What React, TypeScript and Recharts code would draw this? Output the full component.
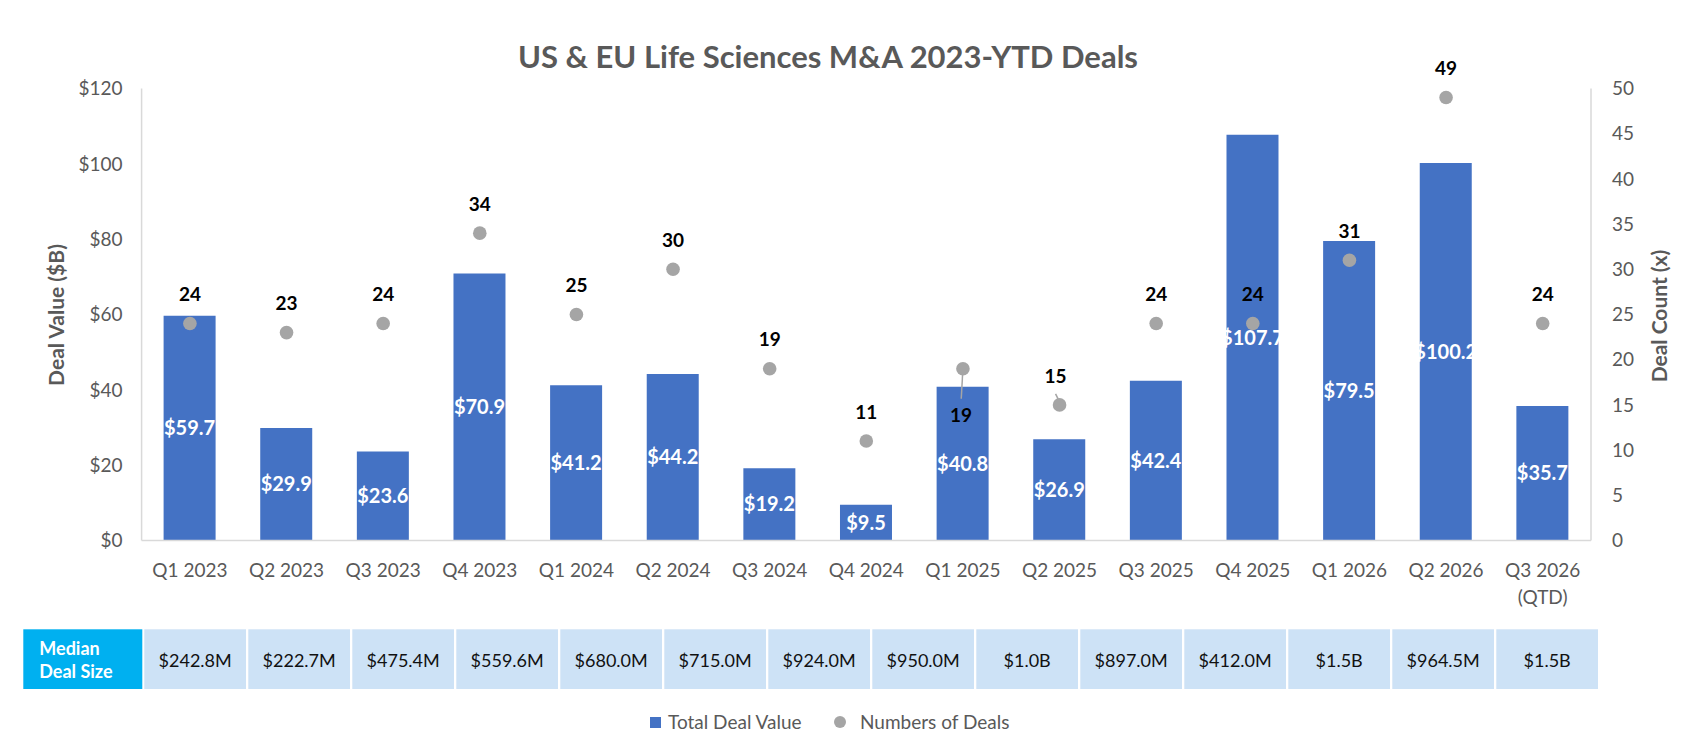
import React from 'react';
import { ComposedChart, Bar, Scatter, XAxis, YAxis, Legend, LabelList } from 'recharts';

const quarters = [
  'Q1 2023', 'Q2 2023', 'Q3 2023', 'Q4 2023',
  'Q1 2024', 'Q2 2024', 'Q3 2024', 'Q4 2024',
  'Q1 2025', 'Q2 2025', 'Q3 2025', 'Q4 2025',
  'Q1 2026', 'Q2 2026', 'Q3 2026 (QTD)',
];
const dealValues = [59.7, 29.9, 23.6, 70.9, 41.2, 44.2, 19.2, 9.5, 40.8, 26.9, 42.4, 107.7, 79.5, 100.2, 35.7];
const dealCounts = [24, 23, 24, 34, 25, 30, 19, 11, 19, 15, 24, 24, 31, 49, 24];
const medianDealSizes = [
  '$242.8M', '$222.7M', '$475.4M', '$559.6M', '$680.0M', '$715.0M', '$924.0M',
  '$950.0M', '$1.0B', '$897.0M', '$412.0M', '$1.5B', '$964.5M', '$1.5B',
];
const valueTicks = [0, 20, 40, 60, 80, 100, 120];
const countTicks = [0, 5, 10, 15, 20, 25, 30, 35, 40, 45, 50];

const data = quarters.map((q, i) => ({ quarter: q, value: dealValues[i], count: dealCounts[i] }));

const FONT = 'Lato, "Open Sans", "DejaVu Sans", sans-serif';
const GRAY_TEXT = '#595959';
const AXIS_GRAY = '#d9d9d9';
const BAR_BLUE = '#4472c4';
const DOT_GRAY = '#a5a5a5';

const QuarterTick = (props: any) => {
  const { x, y, payload } = props;
  const parts = String(payload.value).replace(' (', '\n(').split('\n');
  return (
    <text x={x} y={y} textAnchor="middle" fill={GRAY_TEXT} fontSize={19} fontFamily={FONT}>
      {parts.map((p: string, i: number) => (
        <tspan key={i} x={x} dy={i === 0 ? 36.5 : 26.5}>{p}</tspan>
      ))}
    </text>
  );
};

const CountPoint = (props: any) => {
  const { cx, cy, payload } = props;
  if (cx == null || cy == null) return null;
  const q = payload?.quarter;
  const label = String(payload?.count);
  let lx = cx;
  let ly = cy - 22.3;
  let leader: React.ReactNode = null;
  if (q === 'Q1 2025') {
    lx = cx - 2;
    ly = cy + 53;
    leader = <line x1={cx} y1={cy} x2={cx - 1.7} y2={cy + 30} stroke={DOT_GRAY} strokeWidth={1.5} />;
  } else if (q === 'Q2 2025') {
    lx = cx - 4;
    leader = <line x1={cx - 4} y1={cy - 11} x2={cx - 1} y2={cy - 5} stroke={DOT_GRAY} strokeWidth={1.5} />;
  }
  return (
    <g>
      {leader}
      <circle cx={cx} cy={cy} r={6.8} fill={DOT_GRAY} />
      <text x={lx} y={ly} textAnchor="middle" fontSize={19} fontWeight={700} fill="#000" fontFamily={FONT}>
        {label}
      </text>
    </g>
  );
};

const LegendContent = () => (
  <div style={{ position: 'relative', height: 28, width: 1696, fontFamily: FONT, fontSize: 19, color: GRAY_TEXT }}>
    <div style={{ position: 'absolute', left: 650, top: 8.5, width: 11, height: 11, background: BAR_BLUE }} />
    <div style={{ position: 'absolute', left: 668, top: 0, lineHeight: '28px', whiteSpace: 'nowrap' }}>Total Deal Value</div>
    <div style={{ position: 'absolute', left: 834, top: 8, width: 12, height: 12, borderRadius: '50%', background: DOT_GRAY }} />
    <div style={{ position: 'absolute', left: 860, top: 0, lineHeight: '28px', whiteSpace: 'nowrap' }}>Numbers of Deals</div>
  </div>
);

export default function App() {
  const cellX0 = 144.3;
  const cellPitch = 104.0;
  const cellW = 101.7;
  return (
    <div style={{ position: 'absolute', left: 0, top: 0, width: 1696, height: 750, background: '#fff', fontFamily: FONT }}>
      <ComposedChart
        width={1696}
        height={750}
        data={data}
        margin={{ top: 88.5, right: 45, bottom: 14, left: 81.6 }}
      >
        <XAxis
          dataKey="quarter"
          interval={0}
          tickLine={false}
          tickSize={0}
          tickMargin={0}
          height={167.5}
          axisLine={{ stroke: AXIS_GRAY, strokeWidth: 1.5 }}
          tick={<QuarterTick />}
        />
        <YAxis
          yAxisId="left"
          orientation="left"
          width={60}
          domain={[0, 120]}
          ticks={valueTicks}
          interval={0}
          tickLine={false}
          tickSize={0}
          tickMargin={19}
          axisLine={{ stroke: AXIS_GRAY, strokeWidth: 1.5 }}
          tick={{ fill: GRAY_TEXT, fontSize: 19, fontFamily: FONT }}
          tickFormatter={(v: number) => `$${v}`}
        />
        <YAxis
          yAxisId="right"
          orientation="right"
          width={60}
          domain={[0, 50]}
          ticks={countTicks}
          interval={0}
          tickLine={false}
          tickSize={0}
          tickMargin={21}
          axisLine={{ stroke: AXIS_GRAY, strokeWidth: 1.5 }}
          tick={{ fill: GRAY_TEXT, fontSize: 19, fontFamily: FONT }}
        />
        <Bar dataKey="value" name="Total Deal Value" yAxisId="left" fill={BAR_BLUE} barSize={52} isAnimationActive={false}>
          <LabelList
            dataKey="value"
            position="center"
            fill="#ffffff"
            fontSize={20}
            fontWeight={700}
            fontFamily={FONT}
            formatter={(v: any) => `$${Number(v).toFixed(1)}`}
          />
        </Bar>
        <Scatter
          dataKey="count"
          name="Numbers of Deals"
          yAxisId="right"
          fill={DOT_GRAY}
          shape={CountPoint}
          isAnimationActive={false}
        />
        <Legend verticalAlign="bottom" height={28} wrapperStyle={{ left: 0, width: 1696 }} content={LegendContent} />
      </ComposedChart>
      <svg
        width={1696}
        height={750}
        style={{ position: 'absolute', left: 0, top: 0, pointerEvents: 'none' }}
        fontFamily={FONT}
      >
        <text x={828} y={68} textAnchor="middle" fontSize={31} fontWeight={700} fill={GRAY_TEXT}>
          US &amp; EU Life Sciences M&amp;A 2023-YTD Deals
        </text>
        <text
          x={55}
          y={315}
          transform="rotate(-90, 55, 315)"
          textAnchor="middle"
          dominantBaseline="central"
          fontSize={21}
          fontWeight={700}
          fill={GRAY_TEXT}
        >
          Deal Value ($B)
        </text>
        <text
          x={1658}
          y={316}
          transform="rotate(-90, 1658, 316)"
          textAnchor="middle"
          dominantBaseline="central"
          fontSize={21}
          fontWeight={700}
          fill={GRAY_TEXT}
        >
          Deal Count (x)
        </text>
        <rect x={23.3} y={629.3} width={119} height={59.7} fill="#00b0f0" />
        <text x={39.3} y={655} fontSize={18} fontWeight={700} fill="#ffffff">Median</text>
        <text x={39.3} y={678} fontSize={18} fontWeight={700} fill="#ffffff">Deal Size</text>
        {medianDealSizes.map((m, i) => {
          const x = cellX0 + i * cellPitch;
          return (
            <g key={i}>
              <rect x={x} y={629.3} width={cellW} height={59.7} fill="#cde2f6" />
              <text x={x + cellW / 2} y={666.5} textAnchor="middle" fontSize={18} fill="#111111">{m}</text>
            </g>
          );
        })}
      </svg>
    </div>
  );
}
